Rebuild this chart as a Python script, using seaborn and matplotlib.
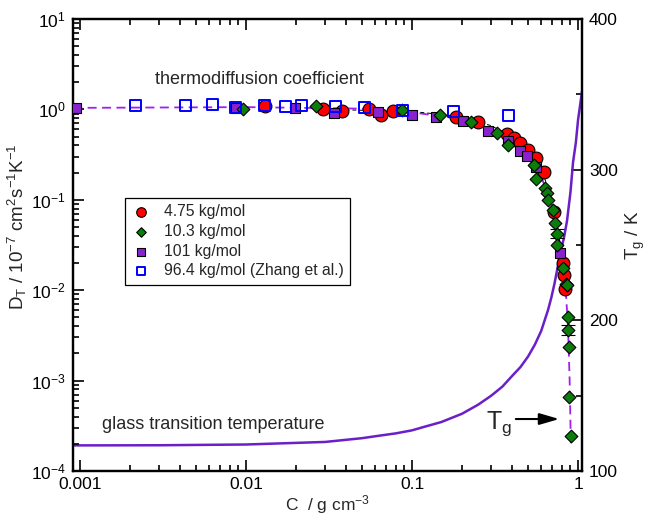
import numpy as np
import pandas as pd
import matplotlib
matplotlib.use("Agg")
import matplotlib.pyplot as plt
import seaborn as sns
from matplotlib.ticker import LogLocator, FixedLocator, MultipleLocator, NullFormatter

# ---------------- data ----------------
red_C = [0.013, 0.029, 0.038, 0.055, 0.065, 0.077, 0.184, 0.25, 0.373, 0.41, 0.448,
         0.50, 0.56, 0.62, 0.72, 0.81, 0.82, 0.835]
red_D = [1.10, 1.00, 0.97, 1.00, 0.87, 0.97, 0.83, 0.72, 0.53, 0.48, 0.42,
         0.36, 0.29, 0.205, 0.074, 0.020, 0.0147, 0.0104]

green_C = [0.0096, 0.0264, 0.087, 0.148, 0.226, 0.325, 0.378, 0.54, 0.56, 0.63, 0.65,
           0.66, 0.71, 0.73, 0.745, 0.75, 0.81, 0.85, 0.86, 0.87, 0.87, 0.88, 0.885, 0.905]
green_D = [1.00, 1.10, 0.98, 0.87, 0.72, 0.55, 0.40, 0.24, 0.17, 0.134, 0.12,
           0.10, 0.077, 0.055, 0.042, 0.032, 0.0176, 0.0118, 0.0114, 0.0050, 0.0036,
           0.00237, 0.00066, 0.000246]

purple_C = [0.00095, 0.0087, 0.0197, 0.034, 0.062, 0.10, 0.14, 0.203, 0.287, 0.378,
            0.448, 0.49, 0.56, 0.78]
purple_D = [1.04, 1.04, 1.04, 0.92, 0.94, 0.87, 0.83, 0.74, 0.58, 0.45,
            0.35, 0.305, 0.23, 0.026]

blue_C = [0.00217, 0.0043, 0.0063, 0.0087, 0.013, 0.0174, 0.0217, 0.0344, 0.052,
          0.088, 0.177, 0.379]
blue_D = [1.10, 1.10, 1.14, 1.06, 1.10, 1.07, 1.10, 1.08, 1.04, 0.97, 0.94, 0.85]

# guide lines
purple_guide_C = [0.00091, 0.01, 0.05, 0.1, 0.2, 0.3, 0.4, 0.5, 0.6, 0.7, 0.78, 0.84,
                  0.87, 0.89, 0.905]
purple_guide_D = [1.04, 1.06, 1.02, 0.93, 0.78, 0.60, 0.43, 0.30, 0.18, 0.085, 0.032,
                  0.011, 0.004, 0.001, 0.0002]
black_guide_C = [0.03, 0.1, 0.2, 0.3, 0.4, 0.5, 0.6, 0.7, 0.8, 0.84]
black_guide_D = [1.0, 0.95, 0.83, 0.66, 0.50, 0.36, 0.22, 0.10, 0.025, 0.011]

# error bars (green points)
err_C = [0.745, 0.87]
err_lo = [0.038, 0.0032]
err_hi = [0.047, 0.0041]

# glass transition temperature curve (right axis)
tg_C = [0.00091, 0.003, 0.01, 0.03, 0.05, 0.064, 0.08, 0.1, 0.12, 0.15, 0.2, 0.25, 0.3,
        0.35, 0.4, 0.45, 0.5, 0.55, 0.6, 0.66, 0.69, 0.72, 0.75, 0.78, 0.82, 0.858,
        0.9, 0.933, 0.97, 1.0, 1.057]
tg_T = [117.0, 117.1, 117.6, 119.3, 121.8, 123.5, 125.0, 127.0, 129.5, 132.5, 138.0,
        144.0, 150.0, 156.0, 163.0, 169.0, 176.0, 184.0, 193.0, 207.0, 215.0, 224.0,
        234.0, 245.0, 254.0, 266.0, 285.0, 305.0, 318.0, 333.0, 352.0]

xtick_vals = [0.001, 0.01, 0.1, 1]
xtick_labels = ["0.001", "0.01", "0.1", "1"]
ytick_vals = [1e-4, 1e-3, 1e-2, 1e-1, 1e0, 1e1]
rtick_vals = [100, 200, 300, 400]

labels = ["4.75 kg/mol", "10.3 kg/mol", "101 kg/mol", "96.4 kg/mol (Zhang et al.)"]

# ---------------- style ----------------
sns.set_style("ticks")
plt.rcParams['font.family'] = ['Liberation Sans', 'DejaVu Sans']
plt.rcParams['mathtext.fontset'] = 'custom'
plt.rcParams['mathtext.rm'] = 'Liberation Sans'
plt.rcParams['mathtext.it'] = 'Liberation Sans:italic'
plt.rcParams['mathtext.default'] = 'regular'

RED = "#ff0000"
GREEN = "#0b7d0b"
PURPLE = "#8a22d0"
BLUE = "#0000ff"
DASH = "#a020f0"
TG = "#6a1fc8"

fig = plt.figure(figsize=(6.46, 5.18), dpi=100)
ax = fig.add_axes([0.113, 0.0907, 0.788, 0.8726])
ax.set_xscale('log')
ax.set_yscale('log')
ax.set_xlim(0.000908, 1.057)
ax.set_ylim(1e-4, 10)

ax2 = ax.twinx()
ax2.set_ylim(100, 400)

# Tg curve
sns.lineplot(x=tg_C, y=tg_T, ax=ax2, color=TG, linewidth=1.8, estimator=None, sort=False)

# guide lines
sns.lineplot(x=purple_guide_C, y=purple_guide_D, ax=ax, color=DASH, linewidth=1.3,
             linestyle=(0, (5, 3)), estimator=None, sort=False, zorder=1)
sns.lineplot(x=black_guide_C, y=black_guide_D, ax=ax, color="black", linewidth=0.7,
             linestyle=(0, (4, 3)), estimator=None, sort=False, zorder=1)

ax.errorbar(err_C, [(a * b) ** 0.5 for a, b in zip(err_lo, err_hi)],
            yerr=[[(a * b) ** 0.5 - a for a, b in zip(err_lo, err_hi)],
                  [b - (a * b) ** 0.5 for a, b in zip(err_lo, err_hi)]],
            fmt='none', ecolor='black', elinewidth=0.8, capsize=5, capthick=0.8, zorder=2)

sns.scatterplot(x=red_C, y=red_D, ax=ax, marker='o', s=85, color=RED,
                edgecolor='black', linewidth=0.8, label=labels[0], zorder=3)
sns.scatterplot(x=green_C, y=green_D, ax=ax, marker='D', s=42, color=GREEN,
                edgecolor='black', linewidth=0.8, label=labels[1], zorder=4)
sns.scatterplot(x=purple_C, y=purple_D, ax=ax, marker='s', s=62, color=PURPLE,
                edgecolor='black', linewidth=0.8, label=labels[2], zorder=3.5)
sns.scatterplot(x=blue_C, y=blue_D, ax=ax, marker='s', s=62, facecolor='none',
                edgecolor=BLUE, linewidth=1.4, label=labels[3], zorder=5)

ax.set_zorder(ax2.get_zorder() + 1)
ax.patch.set_visible(False)

# ticks
ax.xaxis.set_major_locator(FixedLocator(xtick_vals))
ax.set_xticklabels(xtick_labels)
ax.xaxis.set_minor_locator(LogLocator(base=10, subs=np.arange(2, 10), numticks=20))
ax.xaxis.set_minor_formatter(NullFormatter())
ax.yaxis.set_major_locator(FixedLocator(ytick_vals))
ax.yaxis.set_minor_locator(LogLocator(base=10, subs=np.arange(2, 10), numticks=20))
ax.yaxis.set_minor_formatter(NullFormatter())
ax.tick_params(which='both', direction='in', top=True, right=False, width=1.2,
               labelsize=12.5, colors='black')
ax.tick_params(which='major', length=8)
ax.tick_params(which='minor', length=4)
ax.tick_params(axis='x', pad=4)
ax.tick_params(axis='y', pad=5)

ax2.yaxis.set_major_locator(FixedLocator(rtick_vals))
ax2.yaxis.set_minor_locator(MultipleLocator(50))
ax2.tick_params(which='both', direction='in', width=1.2, labelsize=12.5, colors='black')
ax2.tick_params(which='major', length=8, pad=5)
ax2.tick_params(which='minor', length=4)

for a in (ax, ax2):
    for sp in a.spines.values():
        sp.set_linewidth(1.6)
        sp.set_color('black')
        sp.set_visible(True)

ax.set_xlabel(r'C  / g cm$^{-3}$', fontsize=12.5, labelpad=1)
ax.set_ylabel(r'D$_T$ / 10$^{-7}$ cm$^2$s$^{-1}$K$^{-1}$', fontsize=13.5)
ax.yaxis.set_label_coords(-0.086, 0.54)
ax2.set_ylabel(r'T$_g$ / K', fontsize=13.5)
ax2.yaxis.set_label_coords(1.082, 0.522)

# annotations
ax.text(0.161, 0.867, "thermodiffusion coefficient", transform=ax.transAxes,
        fontsize=13, va='center', ha='left')
ax.text(0.057, 0.102, "glass transition temperature", transform=ax.transAxes,
        fontsize=13, va='center', ha='left')
ax.annotate("", xy=(0.80, 0.000376), xytext=(0.406, 0.000376),
            arrowprops=dict(arrowstyle='-|>,head_length=1.2,head_width=0.35',
                            color='black', lw=1.5))
ax.text(0.335, 0.00033, r'T$_g$', fontsize=18, ha='center', va='center')

leg = ax.legend(loc='upper left', bbox_to_anchor=(0.102, 0.604), borderaxespad=0,
                fontsize=11.3, frameon=True, fancybox=False, framealpha=1,
                edgecolor='black', handletextpad=0.9, labelspacing=0.3,
                borderpad=0.4, handlelength=1.2, markerscale=0.75)
leg.get_frame().set_linewidth(0.9)

fig.savefig("out.png", dpi=100)
